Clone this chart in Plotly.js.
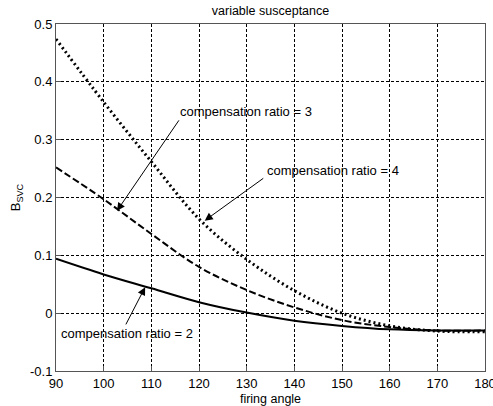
<!DOCTYPE html>
<html>
<head>
<meta charset="utf-8">
<script src="https://cdn.plot.ly/plotly-3.0.1.min.js"></script>
<style>html,body{margin:0;padding:0;background:#fff;}#chart{width:493px;height:406px;}</style>
</head>
<body>
<div id="chart"></div>
<script>
// firing angle (degrees)
const angle = [90, 100, 110, 120, 130, 140, 150, 160, 170, 180];
// B_SVC for compensation ratio = 2 (solid)
const ratio2 = [0.094, 0.067, 0.043, 0.019, 0.001, -0.013, -0.022, -0.028, -0.030, -0.030];
// dashed curve
const ratioDashed = [0.252, 0.197, 0.137, 0.080, 0.040, 0.010, -0.012, -0.024, -0.030, -0.030];
// dotted curve
const ratioDotted = [0.474, 0.365, 0.262, 0.163, 0.093, 0.039, 0.000, -0.022, -0.031, -0.032];

const xTicks = [90, 100, 110, 120, 130, 140, 150, 160, 170, 180];
const yTicks = [-0.1, 0, 0.1, 0.2, 0.3, 0.4, 0.5];
const yTickText = ['-0.1', '0', '0.1', '0.2', '0.3', '0.4', '0.5'];

const labels = ['compensation ratio = 3', 'compensation ratio = 4', 'compensation ratio = 2'];
const labelPos = [[115.6, 0.348], [133.8, 0.247], [90.6, -0.036]];
const arrowHead = [[102.8, 0.177], [121.2, 0.160], [108.7, 0.045]];
const arrowTail = [[116.0, 0.336], [133.8, 0.235], [104.5, -0.022]];

const font = 'Liberation Sans, Arial, Helvetica, sans-serif';

const traces = [
  {x: angle, y: ratio2, mode: 'lines', line: {color: '#000', width: 2, shape: 'spline'}},
  {x: angle, y: ratioDashed, mode: 'lines', line: {color: '#000', width: 2, dash: '7px,3px', shape: 'spline'}},
  {x: angle, y: ratioDotted, mode: 'lines', line: {color: '#000', width: 3, dash: '2px,3px', shape: 'spline'}}
];

const annotations = [];
for (let i = 0; i < labels.length; i++) {
  annotations.push({
    x: labelPos[i][0], y: labelPos[i][1], xref: 'x', yref: 'y',
    text: labels[i], showarrow: false, xanchor: 'left', yanchor: 'middle',
    font: {family: font, size: 13, color: '#000'}
  });
  annotations.push({
    x: arrowHead[i][0], y: arrowHead[i][1], xref: 'x', yref: 'y',
    ax: arrowTail[i][0], ay: arrowTail[i][1], axref: 'x', ayref: 'y',
    text: '', showarrow: true, arrowhead: 2, arrowsize: 1.6, arrowwidth: 1,
    arrowcolor: '#000', standoff: 0, startstandoff: 0
  });
}

const layout = {
  width: 493, height: 406,
  margin: {l: 56, r: 8, t: 24, b: 35},
  paper_bgcolor: '#fff', plot_bgcolor: '#fff',
  showlegend: false,
  font: {family: font, size: 13, color: '#000'},
  title: {text: 'variable susceptance', xref: 'paper', x: 0.5, xanchor: 'center', y: 0.985, yanchor: 'top',
          font: {family: font, size: 12.5, color: '#000'}},
  xaxis: {
    range: [90, 180], tickvals: xTicks, ticktext: xTicks.map(String),
    ticklabeloverflow: 'allow',
    showgrid: true, gridcolor: '#000', gridwidth: 1, griddash: '3px,2px',
    zeroline: false, showline: true, linecolor: '#555', linewidth: 1, mirror: true,
    ticks: 'inside', ticklen: 5, tickcolor: '#555',
    tickfont: {family: font, size: 13, color: '#000'},
    title: {text: 'firing angle', standoff: 4, font: {family: font, size: 12.5, color: '#000'}}
  },
  yaxis: {
    range: [-0.1, 0.5], tickvals: yTicks, ticktext: yTickText,
    showgrid: true, gridcolor: '#000', gridwidth: 1, griddash: '3px,2px',
    zeroline: false, showline: true, linecolor: '#555', linewidth: 1, mirror: true,
    ticks: 'inside', ticklen: 5, tickcolor: '#555',
    tickfont: {family: font, size: 13, color: '#000'},
    title: {text: 'B<sub>SVC</sub>', standoff: 6, font: {family: font, size: 13, color: '#000'}}
  },
  annotations: annotations
};

Plotly.newPlot('chart', traces, layout, {displayModeBar: false, staticPlot: true});
</script>
</body>
</html>
